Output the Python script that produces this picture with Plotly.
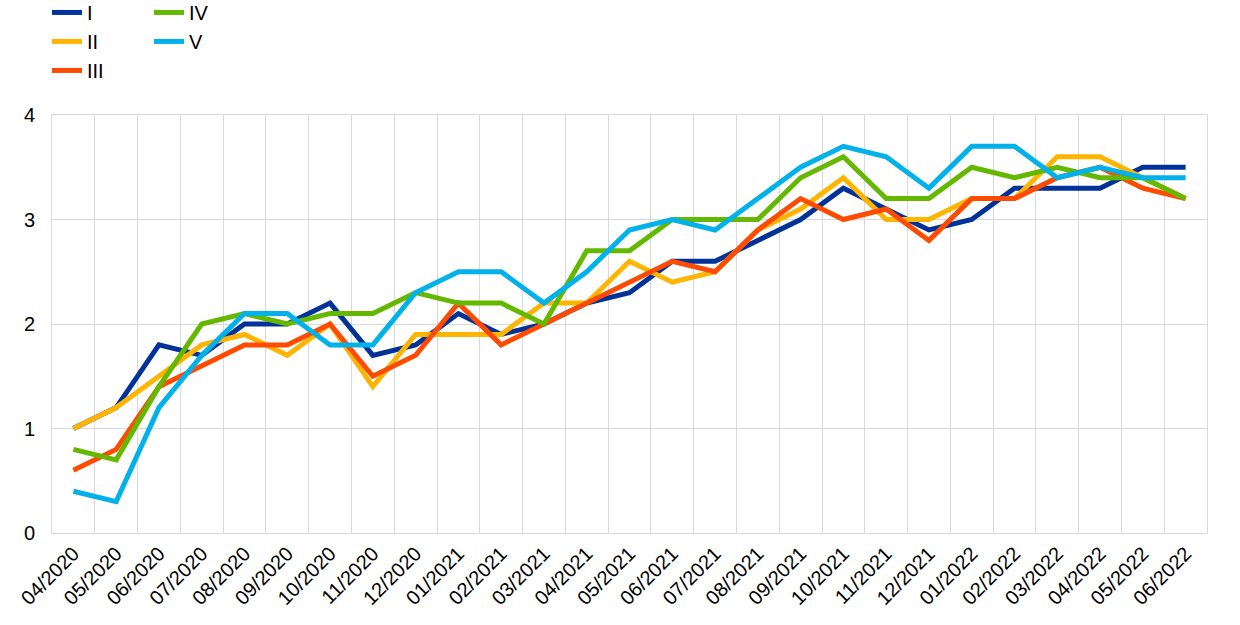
import plotly.graph_objects as go

months = ["04/2020", "05/2020", "06/2020", "07/2020", "08/2020", "09/2020", "10/2020",
          "11/2020", "12/2020", "01/2021", "02/2021", "03/2021", "04/2021", "05/2021",
          "06/2021", "07/2021", "08/2021", "09/2021", "10/2021", "11/2021", "12/2021",
          "01/2022", "02/2022", "03/2022", "04/2022", "05/2022", "06/2022"]

s_I = [1.0, 1.2, 1.8, 1.7, 2.0, 2.0, 2.2, 1.7, 1.8, 2.1, 1.9, 2.0, 2.2, 2.3,
       2.6, 2.6, 2.8, 3.0, 3.3, 3.1, 2.9, 3.0, 3.3, 3.3, 3.3, 3.5, 3.5]
s_II = [1.0, 1.2, 1.5, 1.8, 1.9, 1.7, 2.0, 1.4, 1.9, 1.9, 1.9, 2.2, 2.2, 2.6,
        2.4, 2.5, 2.9, 3.1, 3.4, 3.0, 3.0, 3.2, 3.2, 3.6, 3.6, 3.4, 3.2]
s_III = [0.6, 0.8, 1.4, 1.6, 1.8, 1.8, 2.0, 1.5, 1.7, 2.2, 1.8, 2.0, 2.2, 2.4,
         2.6, 2.5, 2.9, 3.2, 3.0, 3.1, 2.8, 3.2, 3.2, 3.4, 3.5, 3.3, 3.2]
s_IV = [0.8, 0.7, 1.4, 2.0, 2.1, 2.0, 2.1, 2.1, 2.3, 2.2, 2.2, 2.0, 2.7, 2.7,
        3.0, 3.0, 3.0, 3.4, 3.6, 3.2, 3.2, 3.5, 3.4, 3.5, 3.4, 3.4, 3.2]
s_V = [0.4, 0.3, 1.2, 1.7, 2.1, 2.1, 1.8, 1.8, 2.3, 2.5, 2.5, 2.2, 2.5, 2.9,
       3.0, 2.9, 3.2, 3.5, 3.7, 3.6, 3.3, 3.7, 3.7, 3.4, 3.5, 3.4, 3.4]

series = [
    ("I", s_I, "#003299", "legend"),
    ("II", s_II, "#FFB400", "legend"),
    ("III", s_III, "#FF4B00", "legend"),
    ("IV", s_IV, "#65B800", "legend2"),
    ("V", s_V, "#00B1EA", "legend2"),
]

FONT = "Liberation Sans, Arial, sans-serif"
W, H = 1240, 625

fig = go.Figure()
for name, vals, color, leg in series:
    fig.add_trace(go.Scatter(
        x=months, y=vals, name=name, mode="lines",
        line=dict(color=color, width=5),
        legend=leg,
    ))

legend_common = dict(
    orientation="v",
    xref="container", yref="paper",
    xanchor="left", yanchor="top",
    font=dict(family=FONT, size=20, color="#000000"),
    bgcolor="rgba(0,0,0,0)",
    itemwidth=30,
    tracegroupgap=0,
)

fig.update_layout(
    width=W, height=H,
    paper_bgcolor="white", plot_bgcolor="white",
    margin=dict(l=52, r=33, t=115, b=92, autoexpand=False),
    font=dict(family=FONT, size=20, color="#000000"),
    legend=dict(x=47 / W, y=1.292, **legend_common),
    legend2=dict(x=149 / W, y=1.292, **legend_common),
    xaxis=dict(
        type="category",
        tickson="boundaries",
        range=[-0.5, len(months) - 0.5],
        tickangle=-45,
        automargin=False,
        showgrid=True, gridcolor="#d9d9d9", gridwidth=1,
        showline=True, linecolor="#d9d9d9", linewidth=1, mirror=True,
        ticks="",
        tickfont=dict(family=FONT, size=20, color="#000000"),
        zeroline=False,
    ),
    yaxis=dict(
        range=[0, 4], dtick=1, tick0=0,
        automargin=False,
        ticklabelstandoff=12,
        showgrid=True, gridcolor="#d9d9d9", gridwidth=1,
        showline=True, linecolor="#d9d9d9", linewidth=1, mirror=True,
        ticks="",
        tickfont=dict(family=FONT, size=20, color="#000000"),
        zeroline=False,
    ),
)

fig.write_html("out.html", config={"displayModeBar": False},
               post_script="document.body.style.margin='0px';")
